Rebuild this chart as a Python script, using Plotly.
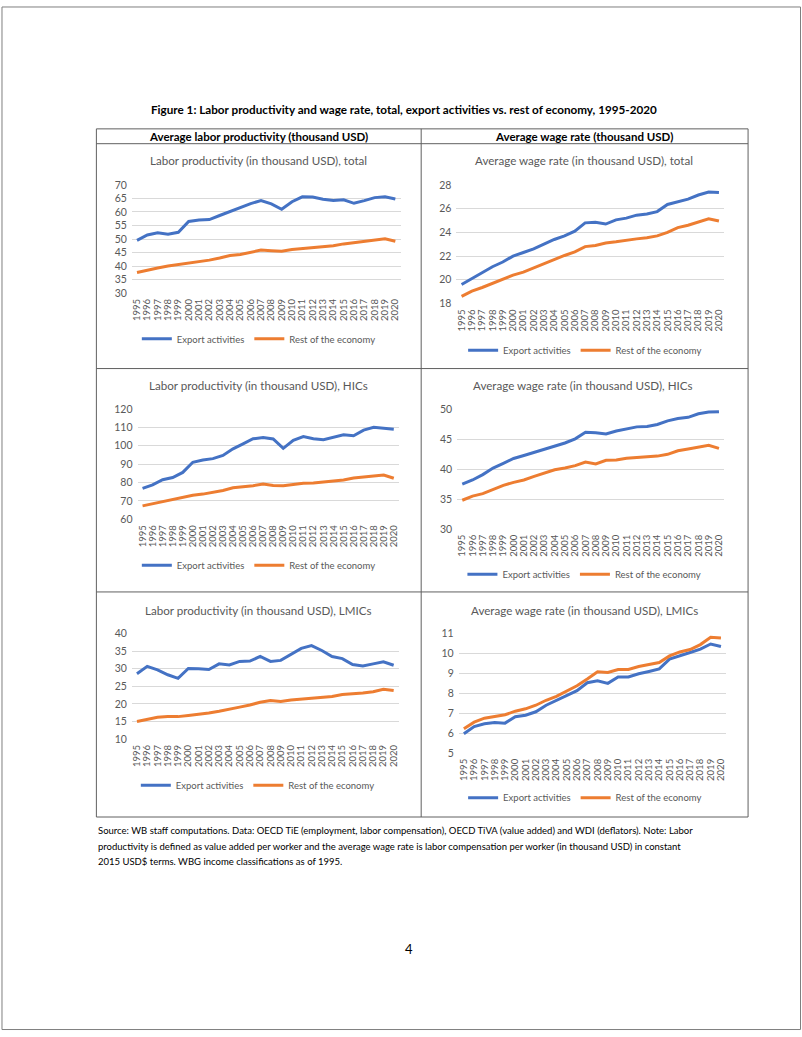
import plotly.graph_objects as go

W, H = 802, 1037
FONT = "Lato"
GRAY = "#595959"
BLUE = "#4472C4"
ORANGE = "#ED7D31"

years = [str(y) for y in range(1995, 2021)]

lp_total_export = [49.5, 51.5, 52.3, 51.8, 52.5, 56.5, 57.0, 57.2, 58.7, 60.2, 61.8, 63.1, 64.2,
                   63.0, 61.0, 63.8, 65.6, 65.5, 64.7, 64.2, 64.5, 63.2, 64.2, 65.3, 65.6, 64.8]
lp_total_rest = [37.6, 38.5, 39.3, 40.0, 40.5, 41.1, 41.6, 42.2, 43.0, 43.9, 44.3, 45.0, 45.9,
                 45.7, 45.5, 46.1, 46.5, 46.7, 47.1, 47.5, 48.2, 48.7, 49.1, 49.5, 50.1, 49.2]

wage_total_export = [19.6, 20.1, 20.6, 21.1, 21.5, 22.0, 22.3, 22.6, 23.0, 23.4, 23.7, 24.1, 24.8,
                     24.85, 24.7, 25.05, 25.2, 25.45, 25.55, 25.75, 26.35, 26.6, 26.8, 27.15, 27.4, 27.35]
wage_total_rest = [18.6, 19.05, 19.35, 19.7, 20.05, 20.4, 20.65, 21.0, 21.4, 21.75, 22.05, 22.35, 22.8,
                   22.9, 23.1, 23.2, 23.35, 23.45, 23.55, 23.7, 24.0, 24.4, 24.6, 24.85, 25.15, 24.95]

lp_hic_export = [76.8, 78.7, 81.5, 82.7, 85.5, 91.0, 92.2, 93.0, 94.7, 98.3, 101.0, 103.8, 104.5,
                 103.7, 98.6, 103.0, 105.0, 103.8, 103.3, 104.5, 106.0, 105.4, 108.5, 110.0, 109.6, 109.0]
lp_hic_rest = [67.3, 68.5, 69.7, 70.9, 72.1, 73.1, 73.7, 74.5, 75.7, 77.1, 77.5, 78.3, 79.2,
               78.4, 78.3, 79.0, 79.6, 79.7, 80.2, 80.7, 81.4, 82.5, 83.2, 83.6, 84.1, 82.3]

wage_hic_export = [37.5, 38.2, 39.1, 40.2, 41.0, 41.8, 42.3, 42.8, 43.3, 43.9, 44.4, 45.1, 46.2,
                   46.1, 45.9, 46.4, 46.8, 47.1, 47.15, 47.5, 48.1, 48.5, 48.7, 49.3, 49.6, 49.65]
wage_hic_rest = [34.8, 35.5, 35.9, 36.6, 37.3, 37.8, 38.2, 38.8, 39.4, 39.9, 40.2, 40.6, 41.2,
                 40.9, 41.5, 41.55, 41.85, 41.95, 42.0, 42.2, 42.5, 43.1, 43.4, 43.7, 44.0, 43.5]

lp_lmic_export = [28.6, 30.7, 29.7, 28.3, 27.3, 30.1, 30.0, 29.8, 31.4, 31.1, 32.1, 32.2, 33.5,
                  32.1, 32.4, 34.1, 35.8, 36.6, 35.2, 33.5, 32.9, 31.2, 30.8, 31.4, 32.0, 31.0]
lp_lmic_rest = [15.0, 15.7, 16.2, 16.4, 16.4, 16.7, 17.0, 17.4, 17.9, 18.6, 19.1, 19.7, 20.5,
                21.0, 20.7, 21.1, 21.3, 21.5, 21.9, 22.1, 22.7, 22.8, 23.1, 23.5, 24.2, 23.8]

wage_lmic_export = [5.97, 6.33, 6.47, 6.53, 6.5, 6.82, 6.9, 7.07, 7.4, 7.63, 7.87, 8.13, 8.53,
                    8.63, 8.5, 8.82, 8.82, 8.98, 9.1, 9.23, 9.72, 9.9, 10.05, 10.22, 10.48, 10.35]
wage_lmic_rest = [6.22, 6.55, 6.75, 6.85, 6.92, 7.1, 7.22, 7.4, 7.65, 7.85, 8.1, 8.38, 8.72,
                  9.08, 9.05, 9.2, 9.2, 9.35, 9.45, 9.55, 9.88, 10.08, 10.2, 10.45, 10.82, 10.78]

series_names = ["Export activities", "Rest of the economy"]

panel_titles = [
    "Labor productivity (in thousand USD), total",
    "Average wage rate (in thousand USD), total",
    "Labor productivity (in thousand USD), HICs",
    "Average wage rate (in thousand USD), HICs",
    "Labor productivity (in thousand USD), LMICs",
    "Average wage rate (in thousand USD), LMICs",
]
panel_data = [
    (lp_total_export, lp_total_rest),
    (wage_total_export, wage_total_rest),
    (lp_hic_export, lp_hic_rest),
    (wage_hic_export, wage_hic_rest),
    (lp_lmic_export, lp_lmic_rest),
    (wage_lmic_export, wage_lmic_rest),
]
y_ranges = [(30, 70), (18, 28), (60, 120), (30, 50), (10, 40), (5, 11)]
y_dticks = [5, 2, 10, 5, 5, 1]

fig_title = "Figure 1: Labor productivity and wage rate, total, export activities vs. rest of economy, 1995-2020"
col_headers = ["Average labor productivity (thousand USD)", "Average wage rate (thousand USD)"]
source_lines = [
    "Source: WB staff computations. Data: OECD TiE (employment, labor compensation), OECD TiVA (value added) and WDI (deflators). Note: Labor",
    "productivity is defined as value added per worker and the average wage rate is labor compensation per worker (in thousand USD) in constant",
    "2015 USD$ terms. WBG income classifications as of 1995.",
]
page_number = "4"

# ---- layout geometry (pixels) ----
plot_x = [(131, 400), (456, 724), (136.7, 398.3), (456.7, 724), (131, 398.3), (458.3, 726)]
plot_y = [(181, 290.5), (181, 301), (407.7, 519.3), (408.3, 529), (635, 741.7), (635, 755.7)]
title_pos = [(257.5, 156.7), (584, 156.7), (258, 384.3), (583, 384.3), (257.5, 611.7), (584.7, 611.7)]
legend_pos = [(145, 336.7), (471.7, 348.3), (145, 565.7), (471, 575), (144, 788.3), (471.7, 801)]


def px(x):
    return x / W


def py(y):
    return 1 - y / H


fig = go.Figure()
layout = dict(
    width=W, height=H,
    margin=dict(l=0, r=0, t=0, b=0),
    paper_bgcolor="white", plot_bgcolor="white",
    font=dict(family=FONT, color=GRAY),
    showlegend=True,
)
annotations = []
shapes = []

for i in range(6):
    n = i + 1
    xa = "x" if n == 1 else f"x{n}"
    ya = "y" if n == 1 else f"y{n}"
    lg = "legend" if n == 1 else f"legend{n}"
    ex, re = panel_data[i]
    for vals, name, col in [(ex, series_names[0], BLUE), (re, series_names[1], ORANGE)]:
        fig.add_trace(go.Scatter(
            x=years, y=vals, name=name, mode="lines",
            line=dict(color=col, width=3),
            xaxis=xa, yaxis=ya, legend=lg, hoverinfo="skip",
        ))
    x0, x1 = plot_x[i]
    y0, y1 = plot_y[i]
    layout[f"xaxis{'' if n == 1 else n}"] = dict(
        domain=[px(x0), px(x1)], anchor=ya, type="category",
        range=[-0.5, len(years) - 0.5], showgrid=False, zeroline=False,
        showline=False, ticks="", tickangle=-90,
        tickmode="array", tickvals=years, ticktext=years,
        tickfont=dict(family=FONT, size=9.5, color=GRAY), ticklabelstandoff=3,
    )
    layout[f"yaxis{'' if n == 1 else n}"] = dict(
        domain=[py(y1), py(y0)], anchor=xa, range=list(y_ranges[i]),
        dtick=y_dticks[i], tick0=0, showgrid=True, gridcolor="#D9D9D9", gridwidth=1,
        zeroline=False, showline=False, ticks="",
        tickfont=dict(family=FONT, size=10.5, color=GRAY), ticklabelstandoff=4,
    )
    lx, ly = legend_pos[i]
    layout[lg] = dict(
        x=px(lx - 9), y=py(ly), xanchor="left", yanchor="middle",
        orientation="h", bgcolor="rgba(0,0,0,0)", borderwidth=0,
        font=dict(family=FONT, size=9.5, color=GRAY),
        itemwidth=30, tracegroupgap=0,
    )
    tx, ty = title_pos[i]
    annotations.append(dict(
        x=px(tx), y=py(ty), xref="paper", yref="paper", text=panel_titles[i],
        showarrow=False, xanchor="center", yanchor="middle",
        font=dict(family=FONT, size=11.6, color=GRAY),
    ))

# figure title and headers
annotations.append(dict(x=px(404), y=py(104), xref="paper", yref="paper", text=f"<b>{fig_title}</b>",
                        showarrow=False, xanchor="center", yanchor="middle",
                        font=dict(family=FONT, size=11.7, color="black")))
annotations.append(dict(x=px(257.5), y=py(132), xref="paper", yref="paper", text=f"<b>{col_headers[0]}</b>",
                        showarrow=False, xanchor="center", yanchor="middle",
                        font=dict(family=FONT, size=11.5, color="black")))
annotations.append(dict(x=px(584), y=py(132), xref="paper", yref="paper", text=f"<b>{col_headers[1]}</b>",
                        showarrow=False, xanchor="center", yanchor="middle",
                        font=dict(family=FONT, size=11.5, color="black")))
for k, line in enumerate(source_lines):
    annotations.append(dict(x=px(95), y=py(834 + 16 * k), xref="paper", yref="paper", text=line,
                            showarrow=False, xanchor="left", yanchor="middle",
                            font=dict(family=FONT, size=9.5, color="black")))
annotations.append(dict(x=px(409), y=py(954), xref="paper", yref="paper", text=page_number,
                        showarrow=False, xanchor="center", yanchor="middle",
                        font=dict(family=FONT, size=13, color="black")))

# table and page borders
LINE = dict(color="#606060", width=1)


def hline(y, x0, x1):
    shapes.append(dict(type="line", xref="paper", yref="paper", x0=px(x0), x1=px(x1), y0=py(y), y1=py(y), line=LINE))


def vline(x, y0, y1):
    shapes.append(dict(type="line", xref="paper", yref="paper", x0=px(x), x1=px(x), y0=py(y0), y1=py(y1), line=LINE))


shapes.append(dict(type="rect", xref="paper", yref="paper", x0=px(1), x1=px(800.5), y0=py(1), y1=py(1035.5),
                   line=dict(color="#7F7F7F", width=1)))
TL, TR, TT, TB = 95.5, 748, 124.3, 820.5
for yy in [TT, 139.3, 366.8, 592.8, TB]:
    hline(yy, TL, TR)
for xx in [TL, 420.7, TR]:
    vline(xx, TT, TB)

layout["annotations"] = annotations
layout["shapes"] = shapes
fig.update_layout(**layout)
fig.write_html(
    "out.html",
    config={"displayModeBar": False, "responsive": False},
    post_script=(
        "document.documentElement.style.margin='0';document.documentElement.style.padding='0';"
        "document.body.style.margin='0';document.body.style.padding='0';"
        "document.documentElement.style.overflow='hidden';document.body.style.overflow='hidden';"
        "var gd=document.getElementsByClassName('plotly-graph-div')[0];"
        "gd.style.position='absolute';gd.style.left='0px';gd.style.top='0px';"
    ),
)
